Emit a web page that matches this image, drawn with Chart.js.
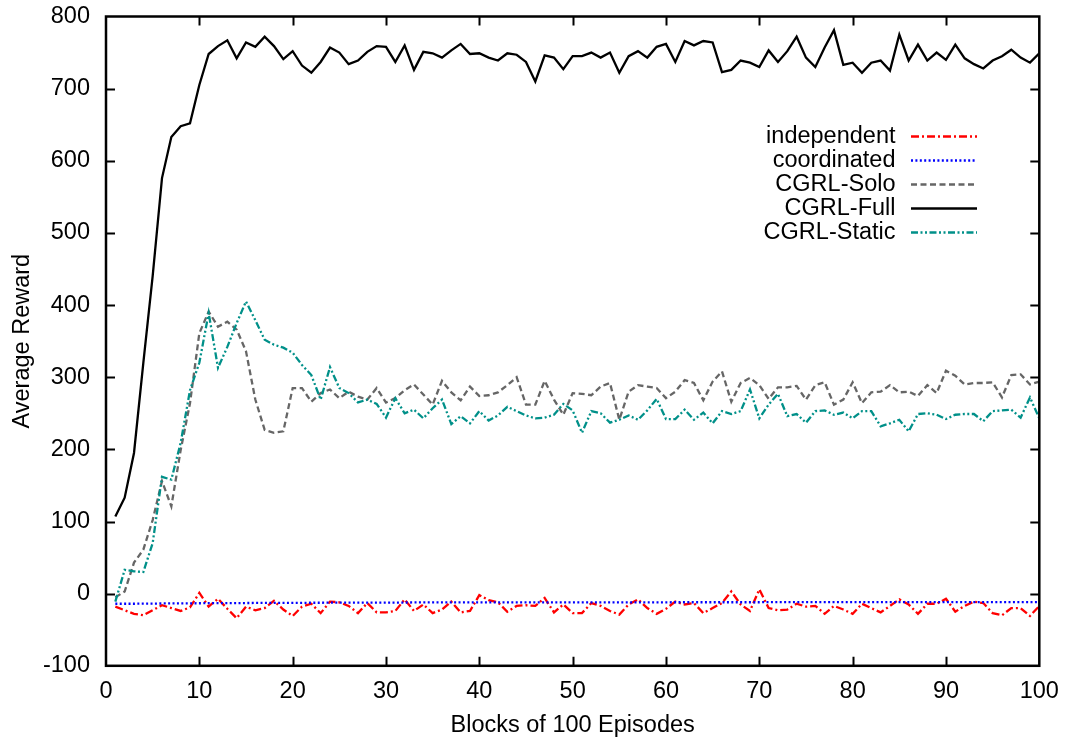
<!DOCTYPE html>
<html>
<head>
<meta charset="utf-8">
<title>Average Reward</title>
<script src="https://cdn.jsdelivr.net/npm/chart.js@4.4.1/dist/chart.umd.min.js"></script>
<style>
  html, body { margin: 0; padding: 0; background: #ffffff; }
  #wrap { width: 1070px; height: 744px; }
</style>
</head>
<body>
<div id="wrap"><canvas id="chart" width="1070" height="744"></canvas></div>
<script>
// Blocks of 100 episodes, 1..100
const blocks = Array.from({ length: 100 }, (_, i) => i + 1);

const independent = [
  -18, -23, -28, -30, -23, -16, -20, -24, -19, 1,
  -18, -7, -21, -34, -18, -23, -20, -10, -22, -31,
  -18, -14, -27, -11, -12, -17, -27, -13, -26, -26,
  -24, -8, -24, -15, -27, -22, -11, -26, -24, -2,
  -9, -12, -25, -17, -16, -17, -6, -26, -15, -27,
  -27, -13, -17, -24, -29, -15, -8, -20, -28, -21,
  -11, -15, -13, -27, -20, -13, 3, -15, -24, 6,
  -20, -23, -22, -14, -18, -17, -28, -17, -22, -28,
  -14, -20, -26, -17, -8, -15, -28, -14, -14, -7,
  -25, -17, -11, -13, -27, -30, -20, -20, -31, -17
];

const coordinated = [
  -14, -14, -14, -13.8, -13.8, -13.6, -13.6, -13.5, -13.4, -13.3,
  -13.2, -13.2, -13.1, -13, -13, -12.9, -12.9, -12.8, -12.8, -12.7,
  -12.7, -12.6, -12.6, -12.5, -12.5, -12.5, -12.4, -12.4, -12.4, -12.3,
  -12.3, -12.3, -12.2, -12.2, -12.2, -12.2, -12.1, -12.1, -12.1, -12.1,
  -12, -12, -12, -12, -12, -12, -12, -12, -12, -12,
  -12, -12, -12, -12, -12, -12, -12, -12, -12, -12,
  -11.9, -11.9, -11.9, -11.9, -11.9, -11.9, -11.9, -11.9, -11.9, -11.9,
  -11.8, -11.8, -11.8, -11.8, -11.8, -11.8, -11.8, -11.8, -11.8, -11.8,
  -11.8, -11.8, -11.8, -11.8, -11.8, -11.8, -11.8, -11.8, -11.8, -11.8,
  -11.7, -11.7, -11.7, -11.7, -11.7, -11.7, -11.7, -11.7, -11.7, -11.7
];

const cgrlSolo = [
  -5, 3, 43, 61, 102, 156, 121, 199, 264, 361,
  391, 370, 377, 366, 336, 269, 227, 223, 225, 285,
  285, 266, 278, 283, 271, 280, 273, 269, 285, 265,
  271, 282, 290, 276, 262, 295, 279, 268, 287, 274,
  275, 279, 289, 300, 262, 262, 295, 269, 248, 278,
  277, 275, 287, 292, 241, 280, 289, 287, 285, 271,
  280, 296, 292, 268, 294, 308, 266, 292, 299, 289,
  270, 286, 286, 288, 269, 289, 293, 262, 269, 293,
  264, 279, 280, 289, 279, 280, 274, 289, 278, 309,
  302, 290, 292, 292, 293, 272, 303, 304, 290, 294
];

const cgrlFull = [
  107, 133, 195, 320, 440, 576, 633, 648, 652, 705,
  748, 759, 767, 742, 764, 758, 772, 759, 741, 752,
  732, 722, 737, 757, 750, 734, 739, 751, 759, 758,
  737, 760, 726, 751, 749, 743, 753, 762, 748, 749,
  743, 739, 749, 747, 737, 710, 746, 743, 727, 745,
  745, 750, 743, 750, 722, 745, 752, 743, 758, 762,
  737, 766, 760, 766, 764, 723, 726, 739, 736, 730,
  753, 737, 752, 772, 743, 730, 757, 781, 733, 736,
  722, 736, 739, 725, 775, 739, 761, 739, 750, 740,
  761, 742, 734, 728, 739, 745, 754, 743, 736, 749
];

const cgrlStatic = [
  -11, 33, 31, 30, 70, 162, 158, 209, 282, 320,
  389, 313, 342, 375, 405, 379, 352, 345, 341, 334,
  317, 303, 269, 314, 285, 278, 265, 269, 263, 244,
  271, 250, 255, 243, 257, 269, 235, 246, 236, 253,
  240, 247, 259, 253, 247, 243, 244, 248, 263, 254,
  223, 253, 250, 237, 241, 247, 241, 254, 270, 242,
  242, 255, 241, 251, 236, 253, 249, 253, 283, 243,
  262, 277, 246, 249, 237, 253, 254, 248, 251, 243,
  253, 253, 232, 236, 241, 225, 249, 250, 248, 242,
  248, 249, 249, 239, 253, 254, 255, 244, 272, 243
];

const xTicks = [0, 10, 20, 30, 40, 50, 60, 70, 80, 90, 100];
const yTicks = [-100, 0, 100, 200, 300, 400, 500, 600, 700, 800];

const FONT_FAMILY = '"Liberation Sans", Arial, Helvetica, sans-serif';
const FONT_SIZE = 23.5;
const LINE_WIDTH = 2.3;

function points(values) {
  return blocks.map((b, i) => ({ x: b, y: values[i] }));
}

const series = [
  { label: 'independent', values: independent, color: '#ff0000', dash: [8, 3, 2, 3], order: 4 },
  { label: 'coordinated', values: coordinated, color: '#0000ff', dash: [2, 2.4], order: 3 },
  { label: 'CGRL-Solo', values: cgrlSolo, color: '#666666', dash: [6, 3.5], order: 2 },
  { label: 'CGRL-Full', values: cgrlFull, color: '#000000', dash: [], order: 1 },
  { label: 'CGRL-Static', values: cgrlStatic, color: '#009089', dash: [7, 2.5, 2, 2.5, 2, 2.5], order: 0 }
];

// Frame around the plot area with inward ticks on all four sides
const framePlugin = {
  id: 'frame',
  afterDatasetsDraw(chart) {
    const { ctx, chartArea: a, scales } = chart;
    ctx.save();
    ctx.strokeStyle = '#000000';
    ctx.lineWidth = 2;
    ctx.setLineDash([]);
    const len = 9;
    ctx.beginPath();
    xTicks.forEach(v => {
      const px = Math.round(scales.x.getPixelForValue(v)) + 0.5;
      if (v === xTicks[0] || v === xTicks[xTicks.length - 1]) return;
      ctx.moveTo(px, a.bottom); ctx.lineTo(px, a.bottom - len);
      ctx.moveTo(px, a.top); ctx.lineTo(px, a.top + len);
    });
    yTicks.forEach(v => {
      const py = Math.round(scales.y.getPixelForValue(v)) + 0.5;
      if (v === yTicks[0] || v === yTicks[yTicks.length - 1]) return;
      ctx.moveTo(a.left, py); ctx.lineTo(a.left + len, py);
      ctx.moveTo(a.right, py); ctx.lineTo(a.right - len, py);
    });
    ctx.stroke();
    ctx.lineWidth = 2.5;
    ctx.strokeRect(a.left, a.top, a.right - a.left, a.bottom - a.top);
    ctx.restore();
  }
};

// Key in the upper right: right-aligned titles followed by line samples
const keyPlugin = {
  id: 'key',
  afterDraw(chart) {
    const { ctx } = chart;
    const textRight = 895.5;
    const sampleLeft = 911;
    const sampleRight = 977;
    const firstRow = 135.7;
    const rowGap = 24;
    ctx.save();
    ctx.font = FONT_SIZE + 'px ' + FONT_FAMILY;
    ctx.textAlign = 'right';
    ctx.textBaseline = 'middle';
    chart.data.datasets.forEach((ds, i) => {
      const y = firstRow + rowGap * i;
      ctx.fillStyle = '#000000';
      ctx.fillText(ds.label, textRight, y + 1);
      ctx.strokeStyle = ds.borderColor;
      ctx.lineWidth = ds.borderWidth;
      ctx.setLineDash(ds.borderDash || []);
      ctx.beginPath();
      ctx.moveTo(sampleLeft, Math.round(y) + 0.5);
      ctx.lineTo(sampleRight, Math.round(y) + 0.5);
      ctx.stroke();
    });
    ctx.restore();
  }
};

const PLOT_LEFT = 106;
const PLOT_RIGHT = 1039.3;
const PLOT_TOP = 16.5;
const PLOT_BOTTOM = 665.8;
const W = 1070, H = 744;

new Chart(document.getElementById('chart'), {
  type: 'line',
  data: {
    datasets: series.map(s => ({
      label: s.label,
      data: points(s.values),
      borderColor: s.color,
      backgroundColor: s.color,
      borderWidth: LINE_WIDTH,
      borderDash: s.dash,
      pointRadius: 0,
      tension: 0,
      fill: false,
      order: s.order
    }))
  },
  options: {
    responsive: false,
    devicePixelRatio: 1,
    animation: false,
    events: [],
    layout: { padding: { left: 0, right: W - PLOT_RIGHT, top: PLOT_TOP, bottom: 0 } },
    plugins: {
      legend: { display: false },
      tooltip: { enabled: false },
      title: { display: false }
    },
    scales: {
      x: {
        type: 'linear',
        min: 0,
        max: 100,
        afterBuildTicks(scale) { scale.ticks = xTicks.map(v => ({ value: v })); },
        afterFit(scale) {
          scale.height = H - PLOT_BOTTOM;
          scale.paddingLeft = 0;
          scale.paddingRight = 0;
        },
        grid: { display: false, drawTicks: false },
        border: { display: false },
        ticks: {
          color: '#000000',
          padding: 12,
          maxRotation: 0,
          autoSkip: false,
          font: { family: FONT_FAMILY, size: FONT_SIZE }
        },
        title: {
          display: true,
          text: 'Blocks of 100 Episodes',
          color: '#000000',
          font: { family: FONT_FAMILY, size: FONT_SIZE, lineHeight: 1.2 },
          padding: { top: 0, bottom: 4.2 }
        }
      },
      y: {
        type: 'linear',
        min: -100,
        max: 800,
        afterBuildTicks(scale) { scale.ticks = yTicks.map(v => ({ value: v })); },
        afterFit(scale) {
          scale.width = PLOT_LEFT;
          scale.paddingTop = 0;
          scale.paddingBottom = 0;
        },
        grid: { display: false, drawTicks: false },
        border: { display: false },
        ticks: {
          color: '#000000',
          padding: 16,
          autoSkip: false,
          font: { family: FONT_FAMILY, size: FONT_SIZE }
        },
        title: {
          display: true,
          text: 'Average Reward',
          color: '#000000',
          font: { family: FONT_FAMILY, size: FONT_SIZE, lineHeight: 1.2 },
          padding: { top: 8, bottom: 0 }
        }
      }
    }
  },
  plugins: [framePlugin, keyPlugin]
});
</script>
</body>
</html>
